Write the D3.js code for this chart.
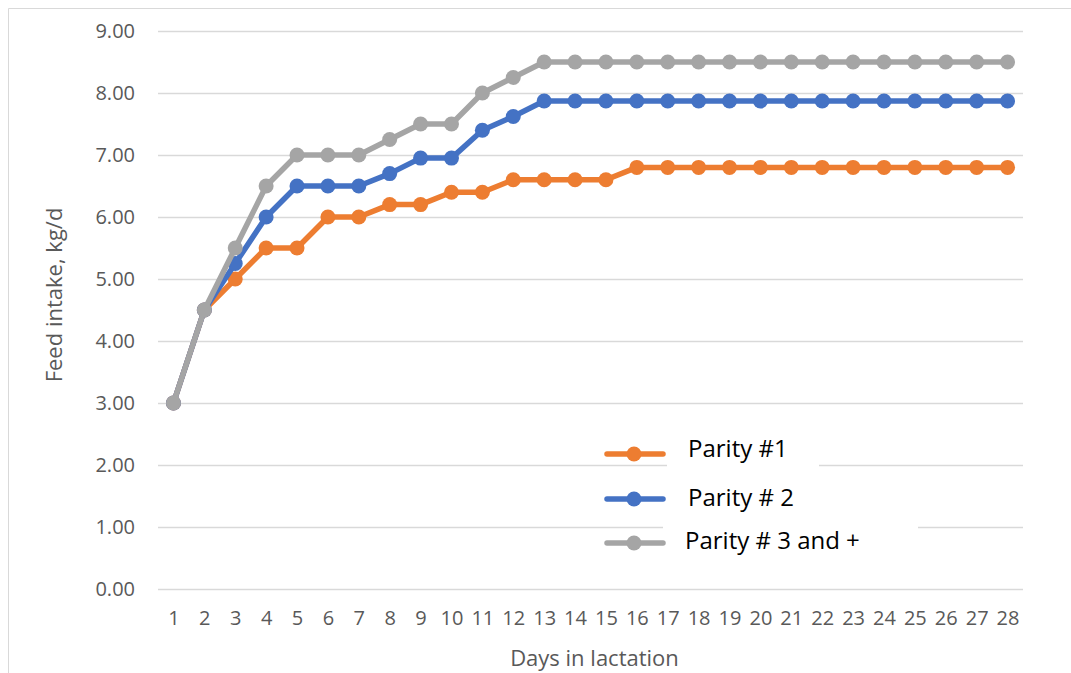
<!DOCTYPE html>
<html>
<head>
<meta charset="utf-8">
<script src="https://cdn.jsdelivr.net/npm/d3@7"></script>
<style>
  body { margin: 0; background: #fff; }
  svg { display: block; }
</style>
</head>
<body>
<div id="chart"></div>
<script>
// Chart data
var days = [1, 2, 3, 4, 5, 6, 7, 8, 9, 10, 11, 12, 13, 14, 15, 16, 17, 18, 19, 20, 21, 22, 23, 24, 25, 26, 27, 28];
var parity1 = [3.0, 4.5, 5.0, 5.5, 5.5, 6.0, 6.0, 6.2, 6.2, 6.4, 6.4, 6.6, 6.6, 6.6, 6.6, 6.8, 6.8, 6.8, 6.8, 6.8, 6.8, 6.8, 6.8, 6.8, 6.8, 6.8, 6.8, 6.8];
var parity2 = [3.0, 4.5, 5.25, 6.0, 6.5, 6.5, 6.5, 6.7, 6.95, 6.95, 7.4, 7.62, 7.87, 7.87, 7.87, 7.87, 7.87, 7.87, 7.87, 7.87, 7.87, 7.87, 7.87, 7.87, 7.87, 7.87, 7.87, 7.87];
var parity3 = [3.0, 4.5, 5.5, 6.5, 7.0, 7.0, 7.0, 7.25, 7.5, 7.5, 8.0, 8.25, 8.5, 8.5, 8.5, 8.5, 8.5, 8.5, 8.5, 8.5, 8.5, 8.5, 8.5, 8.5, 8.5, 8.5, 8.5, 8.5];
var seriesNames = ["Parity #1", "Parity # 2", "Parity # 3 and +"];
var seriesColors = ["#ED7D31", "#4472C4", "#A5A5A5"];
var yTicks = [0, 1, 2, 3, 4, 5, 6, 7, 8, 9];

var w = 1071;
var h = 673;
var plotLeft = 158, plotRight = 1023, plotTop = 31, plotBottom = 589;

var svg = d3.select("#chart").append("svg")
    .attr("width", w)
    .attr("height", h);

// outer chart border (only top and left visible in the crop)
svg.append("path")
    .attr("d", "M8.5," + h + " V8.5 H" + w)
    .attr("fill", "none")
    .attr("stroke", "#D9D9D9")
    .attr("stroke-width", 1);

var x = d3.scalePoint()
    .domain(days)
    .range([plotLeft, plotRight])
    .padding(0.5);

var y = d3.scaleLinear()
    .domain([0, 9])
    .range([plotBottom, plotTop]);

// horizontal gridlines + y labels
var yAxis = d3.axisLeft(y)
    .tickValues(yTicks)
    .tickSize(-(plotRight - plotLeft))
    .tickPadding(23)
    .tickFormat(d3.format(".2f"));

var gy = svg.append("g")
    .attr("transform", "translate(" + plotLeft + ",0)")
    .call(yAxis);
gy.select(".domain").remove();
gy.selectAll(".tick line").attr("stroke", "#D9D9D9").attr("stroke-width", 1.3);
gy.selectAll(".tick text")
    .attr("fill", "#595959")
    .style("font-family", "'Open Sans', sans-serif")
    .style("font-size", "20px");

// x labels
var xAxis = d3.axisBottom(x).tickSize(0).tickPadding(22);
var gx = svg.append("g")
    .attr("transform", "translate(0," + plotBottom + ")")
    .call(xAxis);
gx.select(".domain").remove();
gx.selectAll(".tick text")
    .attr("fill", "#595959")
    .style("font-family", "'Open Sans', sans-serif")
    .style("font-size", "20px");

// axis titles
svg.append("text")
    .attr("x", (plotLeft + plotRight) / 2 + 4)
    .attr("y", 666)
    .attr("text-anchor", "middle")
    .attr("fill", "#595959")
    .style("font-family", "'Open Sans', sans-serif")
    .style("font-size", "22px")
    .text("Days in lactation");

svg.append("text")
    .attr("transform", "translate(62,295) rotate(-90)")
    .attr("text-anchor", "middle")
    .attr("fill", "#595959")
    .style("font-family", "'Open Sans', sans-serif")
    .style("font-size", "22px")
    .text("Feed intake, kg/d");

// series lines and markers
var allSeries = [parity1, parity2, parity3];
var line = d3.line()
    .x(function (d, i) { return x(days[i]); })
    .y(function (d) { return y(d); });

allSeries.forEach(function (values, s) {
    var g = svg.append("g");
    g.append("path")
        .datum(values)
        .attr("d", line)
        .attr("fill", "none")
        .attr("stroke", seriesColors[s])
        .attr("stroke-width", 5.5)
        .attr("stroke-linejoin", "round");
    g.selectAll("circle")
        .data(values)
        .enter()
        .append("circle")
        .attr("cx", function (d, i) { return x(days[i]); })
        .attr("cy", function (d) { return y(d); })
        .attr("r", 7.5)
        .attr("fill", seriesColors[s]);
});

// legend
var legendRows = [454, 499, 543];
var legendTextX = [688, 688, 685];
var legendTextY = [457, 506, 549];
var legendBoxes = [[667, 432, 152, 36], [667, 480, 152, 36], [663, 522, 255, 36]];

var legend = svg.append("g");
seriesNames.forEach(function (name, i) {
    legend.append("rect")
        .attr("x", legendBoxes[i][0])
        .attr("y", legendBoxes[i][1])
        .attr("width", legendBoxes[i][2])
        .attr("height", legendBoxes[i][3])
        .attr("fill", "#fff");
    legend.append("line")
        .attr("x1", 607).attr("x2", 663)
        .attr("y1", legendRows[i]).attr("y2", legendRows[i])
        .attr("stroke", seriesColors[i])
        .attr("stroke-width", 5.5)
        .attr("stroke-linecap", "round");
    legend.append("circle")
        .attr("cx", 634)
        .attr("cy", legendRows[i])
        .attr("r", 7.5)
        .attr("fill", seriesColors[i]);
    legend.append("text")
        .attr("x", legendTextX[i])
        .attr("y", legendTextY[i])
        .attr("fill", "#000")
        .style("font-family", "'Open Sans', sans-serif")
        .style("font-size", "24px")
        .text(name);
});
</script>
</body>
</html>
